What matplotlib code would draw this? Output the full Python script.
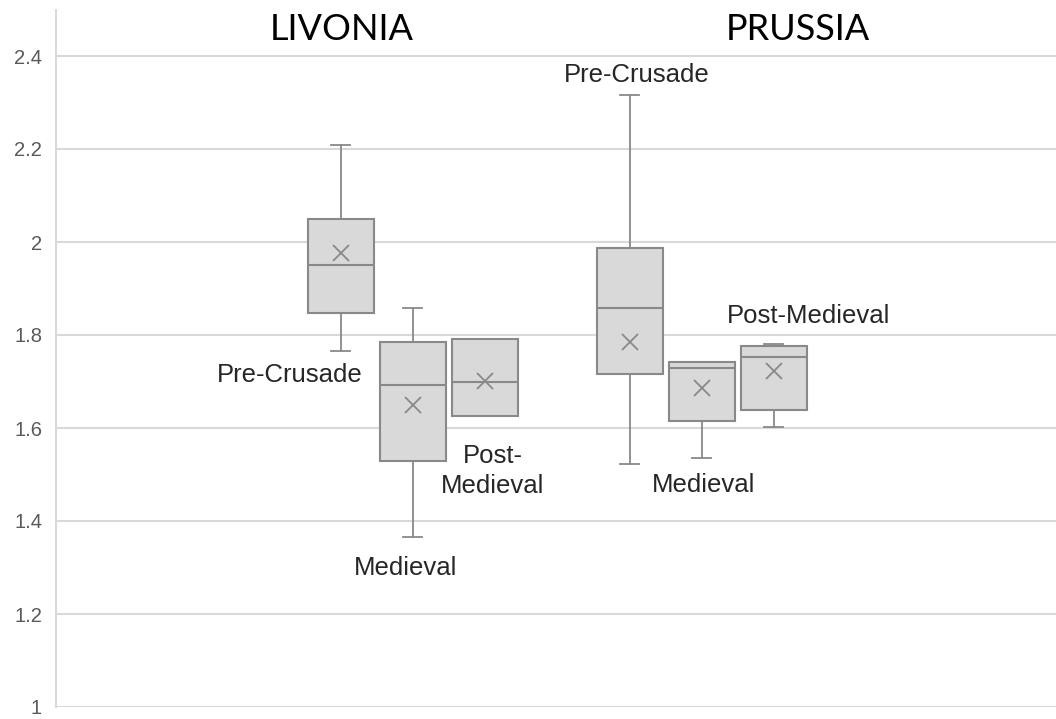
import matplotlib.pyplot as plt
import numpy as np

regions = ['LIVONIA', 'PRUSSIA']
periods = ['Pre-Crusade', 'Medieval', 'Post-Medieval']

# box statistics per region, in order of periods
whislo = [[1.766, 1.365, 1.626], [1.523, 1.535, 1.603]]
q1 = [[1.847, 1.530, 1.626], [1.716, 1.615, 1.638]]
med = [[1.950, 1.692, 1.699], [1.857, 1.729, 1.753]]
q3 = [[2.049, 1.784, 1.791], [1.988, 1.741, 1.776]]
whishi = [[2.209, 1.857, 1.791], [2.316, 1.741, 1.780]]
means = [[1.977, 1.649, 1.702], [1.784, 1.687, 1.722]]

yticks = [1, 1.2, 1.4, 1.6, 1.8, 2, 2.2, 2.4]
ytick_labels = ['1', '1.2', '1.4', '1.6', '1.8', '2', '2.2', '2.4']

edge = '#898989'
fill = '#d9d9d9'
grid = '#d9d9d9'

fig = plt.figure(figsize=(10.56, 7.19), dpi=100)
ax = fig.add_axes([56/1056, 12/719, 1000/1056, 697.5/719])

group_centers = [3.565, 6.455]
offsets = [-0.72, 0, 0.72]

stats = []
positions = []
for g in range(len(regions)):
    for p in range(len(periods)):
        stats.append(dict(label=periods[p], whislo=whislo[g][p], q1=q1[g][p],
                          med=med[g][p], q3=q3[g][p], whishi=whishi[g][p],
                          mean=means[g][p], fliers=[]))
        positions.append(group_centers[g] + offsets[p])

ax.bxp(stats, positions=positions, widths=0.66, capwidths=0.19,
       showmeans=True, showfliers=False, patch_artist=True,
       boxprops=dict(facecolor=fill, edgecolor=edge, linewidth=1.5),
       medianprops=dict(color=edge, linewidth=1.5),
       whiskerprops=dict(color=edge, linewidth=1.3),
       capprops=dict(color=edge, linewidth=1.3),
       meanprops=dict(marker='x', markeredgecolor=edge, markersize=11,
                      markeredgewidth=1.3))

ax.set_xlim(0, 10)
ax.set_ylim(1, 2.5)
ax.set_yticks(yticks)
ax.set_yticklabels(ytick_labels)
ax.set_xticks([])
ax.tick_params(axis='y', length=0, pad=10, labelsize=14.5, labelcolor='#595959')
for lab in ax.get_yticklabels():
    lab.set_fontfamily('Liberation Sans')
ax.yaxis.grid(True, color=grid, linewidth=1.5)
ax.set_axisbelow(True)
for s in ['top', 'right', 'bottom']:
    ax.spines[s].set_visible(False)
ax.spines['left'].set_color(grid)
ax.spines['left'].set_linewidth(1.5)

# region titles
for name, xc in zip(regions, [2.86, 7.42]):
    ax.text(xc, 2.434, name, ha='center', va='baseline', fontsize=26,
            family='Lato', color='#000000')

lab_font = dict(fontsize=18.5, family='Liberation Sans', color='#262626')
ax.text(3.07, 1.699, 'Pre-Crusade', ha='right', va='baseline', **lab_font)
ax.text(3.50, 1.284, 'Medieval', ha='center', va='baseline', **lab_font)
ax.text(4.37, 1.508, 'Post-\nMedieval', ha='center', va='center',
        linespacing=1.32, **lab_font)
ax.text(5.805, 2.344, 'Pre-Crusade', ha='center', va='baseline', **lab_font)
ax.text(6.48, 1.462, 'Medieval', ha='center', va='baseline', **lab_font)
ax.text(7.53, 1.826, 'Post-Medieval', ha='center', va='baseline', **lab_font)

fig.savefig('out.png', dpi=100, facecolor='white')
